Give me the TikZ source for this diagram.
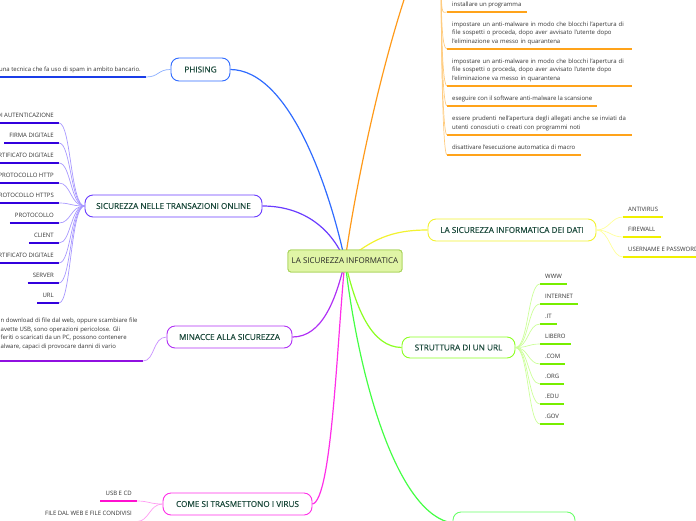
\documentclass[tikz,border=0pt]{standalone}
\usepackage{fontspec}
\setmainfont{Open Sans}
\newfontfamily\titlefont{Open Sans}[FakeBold=0.3]
\definecolor{titlecol}{HTML}{1C4A3C}
\definecolor{txtcol}{HTML}{333333}
\definecolor{rootfill}{HTML}{E0F5A6}
\definecolor{rootdraw}{HTML}{A9D45A}
\definecolor{cblue}{HTML}{2F6BFF}
\definecolor{cbluel}{HTML}{8AAEFF}
\definecolor{cbluedk}{HTML}{1A3DE8}
\definecolor{cindigo}{HTML}{6A3CFF}
\definecolor{cindigol}{HTML}{A898FF}
\definecolor{cindigodk}{HTML}{3300DD}
\definecolor{cviolet}{HTML}{B030F5}
\definecolor{cvioletl}{HTML}{C890FF}
\definecolor{cvioletdk}{HTML}{9010E0}
\definecolor{cmag}{HTML}{FF2EE8}
\definecolor{cmagl}{HTML}{FF9CF2}
\definecolor{cmagdk}{HTML}{FF10D0}
\definecolor{corange}{HTML}{FF9A1A}
\definecolor{corangel}{HTML}{FFCC80}
\definecolor{corangedk}{HTML}{FFA31A}
\definecolor{cyellow}{HTML}{F2F230}
\definecolor{cyellowl}{HTML}{FFFF99}
\definecolor{cyellowdk}{HTML}{F0F000}
\definecolor{clime}{HTML}{8CFF22}
\definecolor{climel}{HTML}{CCFF99}
\definecolor{climedk}{HTML}{77EE00}
\definecolor{cgreen}{HTML}{44FF44}
\begin{document}
\begin{tikzpicture}[x=1pt,y=-1pt,
  topic/.style={draw, fill=white, rounded corners=8pt, line width=0.9pt,
    text=titlecol, font=\titlefont\fontsize{8.2}{9.5}\selectfont, inner sep=0pt},
  rootbox/.style={draw=rootdraw, fill=rootfill, rounded corners=3pt, line width=0.9pt,
    text=black!85, font=\fontsize{8.0}{9.5}\selectfont, inner sep=0pt,
    minimum width=114pt, minimum height=22pt},
  leaf/.style={text=txtcol, font=\fontsize{6.0}{8.5}\selectfont, inner xsep=5pt,
    inner ysep=4pt, text height=4.4pt, text depth=1.5pt},
  para/.style={text=txtcol, font=\fontsize{6.0}{8.5}\selectfont, inner xsep=5pt,
    inner ysep=4pt, align=left},
  main/.style={line width=1.2pt},
  twig/.style={line width=0.7pt},
  uline/.style={line width=1.5pt}
]
\useasboundingbox (0,0) rectangle (696,520);
\clip (0,0) rectangle (696,520);

% ---------- topics ----------
\node[rootbox] (root) at (345,261) {LA SICUREZZA INFORMATICA};
\coordinate (opl) at (418,-40);
\coordinate (opr) at (441,-40);

\node[topic, draw=cblue, minimum width=59pt, minimum height=23pt] (phis) at (200.5,69.5) {PHISING};
\node[topic, draw=cindigo, minimum width=177pt, minimum height=22pt] (trans) at (173.5,206) {SICUREZZA NELLE TRANSAZIONI ONLINE};
\node[topic, draw=cviolet, minimum width=125pt, minimum height=22pt] (minac) at (229.5,337) {MINACCE ALLA SICUREZZA};
\node[topic, draw=cmag, minimum width=149pt, minimum height=22pt] (come) at (237.5,504) {COME SI TRASMETTONO I VIRUS};
\node[topic, draw=cyellow, minimum width=168pt, minimum height=22pt] (dati) at (512,230) {LA SICUREZZA INFORMATICA DEI DATI};
\node[topic, draw=clime, minimum width=113pt, minimum height=21pt] (url) at (458.5,347.5) {STRUTTURA DI UN URL};
\node[topic, draw=cgreen!80!white, minimum width=122pt, minimum height=22pt] (bott) at (514,523) {};

% ---------- main connectors ----------
\draw[main, cblue] (phis.east) .. controls (290,70) and (330,190) .. (root.center);
\draw[main, cindigo] (trans.east) .. controls (300,206) and (330,225) .. (root.center);
\draw[main, cviolet] (minac.east) .. controls (322,337) and (336,300) .. (root.center);
\draw[main, cmag] (come.east) .. controls (332,500) and (337,340) .. (root.center);
\draw[main, corange] (root.center) .. controls (358,170) and (387,40) .. (opl);
\draw[main, cyellow] (root.center) .. controls (372,240) and (390,230) .. (dati.west);
\draw[main, clime] (root.center) .. controls (356,310) and (372,347) .. (url.west);
\draw[main, cgreen] (root.center) .. controls (360,390) and (400,515) .. (bott.west);

% root on top of its connectors
\node[rootbox] at (345,261) {LA SICUREZZA INFORMATICA};

% ---------- PHISING ----------
\node[leaf, anchor=south east] (ph1) at (146,77) {una tecnica che fa uso di spam in ambito bancario.};
\draw[uline, cbluedk] (-5,77) -- (ph1.south east);
\draw[twig, cbluel] (phis.west) .. controls +(-13,0) and +(13,0) .. (ph1.south east);

% ---------- SICUREZZA NELLE TRANSAZIONI ONLINE ----------
\foreach \t/\y [count=\i] in {DI AUTENTICAZIONE/123, FIRMA DIGITALE/143, CERTIFICATO DIGITALE/163,
  PROTOCOLLO HTTP/183, PROTOCOLLO HTTPS/203, PROTOCOLLO/223, CLIENT/243,
  CERTIFICATO DIGITALE/263, SERVER/283, URL/303}{
  \node[leaf, anchor=south east] (s\i) at (59,\y) {\t};
  \draw[uline, cindigodk] (s\i.south west) -- (s\i.south east);
  \draw[twig, cindigol] (trans.west) .. controls +(-14,0) and +(12,0) .. (s\i.south east);
}

% ---------- MINACCE ----------
\node[para, anchor=south west, inner xsep=0.5pt] (mi1) at (0,354) {n download di file dal web, oppure scambiare file\\avette USB, sono operazioni pericolose. Gli\\feriti o scaricati da un PC, possono contenere\\alware, capaci di provocare danni di vario};
\draw[uline, cvioletdk] (-5,361) -- (143,361) coordinate (mi1e);
\draw[twig, cvioletl] (minac.west) .. controls +(-14,0) and +(12,0) .. (mi1e);

% ---------- COME SI TRASMETTONO ----------
\node[leaf, anchor=south east] (c1) at (137,501) {USB E CD};
\node[leaf, anchor=south east] (c2) at (137,521.5) {FILE DAL WEB E FILE CONDIVISI};
\foreach \n in {c1,c2}{
  \draw[uline, cmagdk] (\n.south west) -- (\n.south east);
  \draw[twig, cmagl] (come.west) .. controls +(-13,0) and +(12,0) .. (\n.south east);
}

% ---------- ORANGE (parent off the page) ----------
\node[leaf, anchor=south west] (o1) at (447,12) {installare un programma};
\node[para, anchor=south west, text width=175pt] (o2) at (447,49) {impostare un anti-malware in modo che blocchi l'apertura di\\file sospetti o proceda, dopo aver avvisato l'utente dopo\\l'eliminazione va messo in quarantena};
\node[para, anchor=south west, text width=175pt] (o3) at (447,86) {impostare un anti-malware in modo che blocchi l'apertura di\\file sospetti o proceda, dopo aver avvisato l'utente dopo\\l'eliminazione va messo in quarantena};
\node[leaf, anchor=south west] (o4) at (447,106) {eseguire con il software anti-malware la scansione};
\node[para, anchor=south west, text width=175pt] (o5) at (447,135) {essere prudenti nell'apertura degli allegati anche se inviati da\\utenti conosciuti o creati con programmi noti};
\node[leaf, anchor=south west] (o6) at (447,155) {disattivare l'esecuzione automatica di macro};
\foreach \n in {o1,o2,o3,o4,o5,o6}{
  \draw[uline, corangedk] (\n.south west) -- (\n.south east);
  \draw[twig, corangel] (opr) .. controls +(0,60) and +(-5,0) .. (\n.south west);
}

% ---------- DATI ----------
\foreach \t/\y [count=\i] in {ANTIVIRUS/217, FIREWALL/237, USERNAME E PASSWORD/257}{
  \node[leaf, anchor=south west] (d\i) at (623,\y) {\t};
  \draw[uline, cyellowdk] (d\i.south west) -- (d\i.south east);
  \draw[twig, cyellowl] (dati.east) .. controls +(13,0) and +(-12,0) .. (d\i.south west);
}

% ---------- URL ----------
\foreach \t/\y [count=\i] in {WWW/284, INTERNET/304, .IT/324, LIBERO/344, .COM/364, .ORG/384, .EDU/404, .GOV/424}{
  \node[leaf, anchor=south west] (u\i) at (540,\y) {\t};
  \draw[uline, climedk] (u\i.south west) -- (u\i.south east);
  \draw[twig, climel] (url.east) .. controls +(13,0) and +(-12,0) .. (u\i.south west);
}
\end{tikzpicture}
\end{document}
